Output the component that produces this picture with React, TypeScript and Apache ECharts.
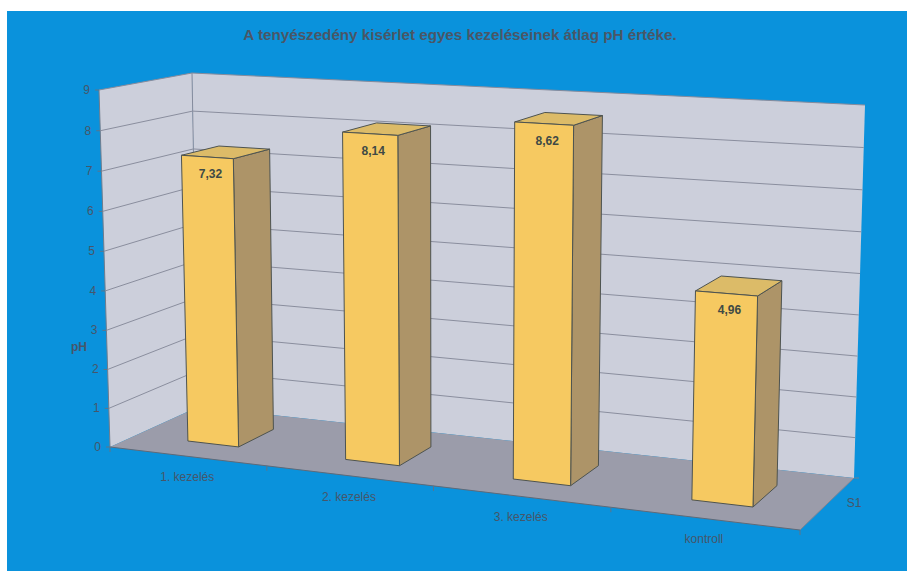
import { useEffect, useRef } from "react";
import * as echarts from "echarts";

const titleText = "A tenyészedény kisérlet egyes kezeléseinek átlag pH értéke.";
const categories = ["1. kezelés", "2. kezelés", "3. kezelés", "kontroll"];
const phValues = [7.32, 8.14, 8.62, 4.96];
const yTicks = [0, 1, 2, 3, 4, 5, 6, 7, 8, 9];
const seriesName = "S1";
const yAxisName = "pH";

type Pt = [number, number];

// Screen corners of the pseudo-3D box: floor, then the plane at the axis maximum.
const FLOOR = { fl: [110, 447] as Pt, fr: [800, 530] as Pt, br: [854, 478] as Pt, bl: [198, 407] as Pt };
const CEIL = { fl: [99, 90] as Pt, fr: [810, 130] as Pt, br: [865, 105] as Pt, bl: [192, 73] as Pt };

const GRID = { left: 110, top: 90, width: 690, height: 357 };
const BAR_LEFT = 0.04;
const BAR_RIGHT = 0.042;
const BAR_FRONT = 0.3;
const BAR_BACK = 0.72;

const TEXT = "#46566a";
const FONT = '"Liberation Sans", Arial, sans-serif';

const lerp = (a: Pt, b: Pt, k: number): Pt => [a[0] + (b[0] - a[0]) * k, a[1] + (b[1] - a[1]) * k];

// Foreshortening along the category direction and along the height.
const widen = (u: number) => u / (1 + 0.133 * (1 - u));
const rise = (t: number) => t / (1 + 0.03 * (1 - t));

function project(u: number, v: number, t: number): Pt {
  const uu = widen(u);
  const base = lerp(lerp(FLOOR.fl, FLOOR.fr, uu), lerp(FLOOR.bl, FLOOR.br, uu), v);
  const top = lerp(lerp(CEIL.fl, CEIL.fr, uu), lerp(CEIL.bl, CEIL.br, uu), v);
  return lerp(base, top, rise(t));
}

const toU = (px: number) => (px - GRID.left) / GRID.width;
const toT = (py: number) => (GRID.top + GRID.height - py) / GRID.height;

const poly = (points: Pt[], fill: string, stroke: string, lineWidth = 1) => ({
  type: "polygon",
  shape: { points },
  style: { fill, stroke, lineWidth, lineJoin: "round" },
});
const seg = (a: Pt, b: Pt, stroke: string, lineWidth = 1) => ({
  type: "line",
  shape: { x1: a[0], y1: a[1], x2: b[0], y2: b[1] },
  style: { stroke, lineWidth, fill: "none" },
});
const label = (x: number, y: number, text: string, font: string, fill = TEXT, align = "center") => ({
  type: "text",
  x,
  y,
  style: { text, font, fill, align, verticalAlign: "middle" },
});

function renderBox() {
  const floorColor = "#9b9caa";
  const wall = "#cccfdb";
  const edge = "#868b9c";
  const children: any[] = [
    poly([FLOOR.bl, FLOOR.fl, CEIL.fl, CEIL.bl], wall, "none", 0),
    poly([FLOOR.bl, FLOOR.br, CEIL.br, CEIL.bl], wall, "none", 0),
    poly([FLOOR.fl, FLOOR.fr, FLOOR.br, FLOOR.bl], floorColor, "none", 0),
    seg(CEIL.fl, CEIL.bl, edge),
    seg(CEIL.bl, CEIL.br, edge),
    seg(CEIL.bl, FLOOR.bl, edge),
    seg(FLOOR.fl, CEIL.fl, "#6f7c8c"),
    seg(FLOOR.fl, FLOOR.fr, "#5f6a78"),
    seg(FLOOR.fr, FLOOR.br, "#7d8494"),
    seg(FLOOR.br, [FLOOR.br[0] + 5, FLOOR.br[1]], "#6f8296"),
    label(854, 503, seriesName, `12px ${FONT}`),
    label(79, 347, yAxisName, `bold 12px ${FONT}`),
  ];
  // Division marks between categories on the front floor edge.
  [0, 0.25, 0.5, 0.75, 1].forEach((u) => {
    const p = project(u, 0, 0);
    children.push(seg(p, [p[0], p[1] + 5], "#5f7488"));
  });
  return { type: "group", children };
}

function renderTick(_params: any, api: any) {
  const value = api.value(1);
  const t = toT(api.coord([0, value])[1]);
  const front = project(0, 0, t);
  const corner = project(0, 1, t);
  const right = project(1, 1, t);
  const children: any[] = [seg([front[0] - 4, front[1]], front, "#5f7488"),
    label(front[0] - 9, front[1], String(value), `12px ${FONT}`, TEXT, "right")];
  if (value > 0 && value < 9) {
    children.push(seg(front, corner, "#8a8e9e"), seg(corner, right, "#8a8e9e"));
  }
  return { type: "group", children };
}

function renderBar(_params: any, api: any) {
  const [px, py] = api.coord([api.value(0), api.value(1)]);
  const u = toU(px);
  const t = toT(py);
  const l = u - BAR_LEFT;
  const r = u + BAR_RIGHT;
  const outline = "#4d5350";
  const ftl = project(l, BAR_FRONT, t);
  const ftr = project(r, BAR_FRONT, t);
  const fbl = project(l, BAR_FRONT, 0);
  const fbr = project(r, BAR_FRONT, 0);
  const btl = project(l, BAR_BACK, t);
  const btr = project(r, BAR_BACK, t);
  const bbr = project(r, BAR_BACK, 0);
  return {
    type: "group",
    children: [
      poly([fbr, bbr, btr, ftr], "#ad9468", outline),
      poly([ftl, ftr, btr, btl], "#dcbb68", outline),
      poly([fbl, fbr, ftr, ftl], "#f6c961", outline),
      label(
        (ftl[0] + ftr[0]) / 2 + 3,
        (ftl[1] + ftr[1]) / 2 + 17,
        api.value(1).toFixed(2).replace(".", ","),
        `bold 12px ${FONT}`,
        "#3f4a45",
      ),
    ],
  };
}

function renderCategory(params: any, api: any) {
  const px = api.coord([api.value(0), 0])[0];
  const p = project(toU(px), 0, 0);
  return label(p[0], p[1] + 21, categories[params.dataIndex], `12px ${FONT}`);
}

export default function App() {
  const ref = useRef<HTMLDivElement>(null);

  useEffect(() => {
    const chart = echarts.init(ref.current!, undefined, { renderer: "svg" });
    chart.setOption({
      animation: false,
      backgroundColor: "#ffffff",
      title: {
        text: titleText,
        left: 455,
        top: 22,
        textAlign: "center",
        textStyle: { color: "#4a5666", fontSize: 15.2, fontWeight: "bold", fontFamily: FONT },
        z: 10,
      },
      graphic: [
        {
          type: "rect",
          z: -1,
          shape: { x: 7, y: 11, width: 900, height: 560 },
          style: { fill: "#0a92dc" },
        },
      ],
      grid: { ...GRID },
      xAxis: { type: "category", data: categories, show: false },
      yAxis: { type: "value", min: 0, max: 9, interval: 1, show: false },
      series: [
        { type: "custom", silent: true, z: 2, renderItem: renderBox, data: [[categories[0], 0]] },
        { type: "custom", silent: true, z: 3, renderItem: renderTick, data: yTicks.map((t) => [categories[0], t]) },
        {
          type: "custom",
          silent: true,
          z: 4,
          renderItem: renderCategory,
          data: categories.map((c) => [c, 0]),
        },
        {
          type: "custom",
          silent: true,
          z: 5,
          renderItem: renderBar,
          data: categories.map((c, i) => [c, phValues[i]]),
        },
      ],
    });
    return () => chart.dispose();
  }, []);

  return <div ref={ref} style={{ position: "absolute", left: 0, top: 0, width: 907, height: 571 }} />;
}
